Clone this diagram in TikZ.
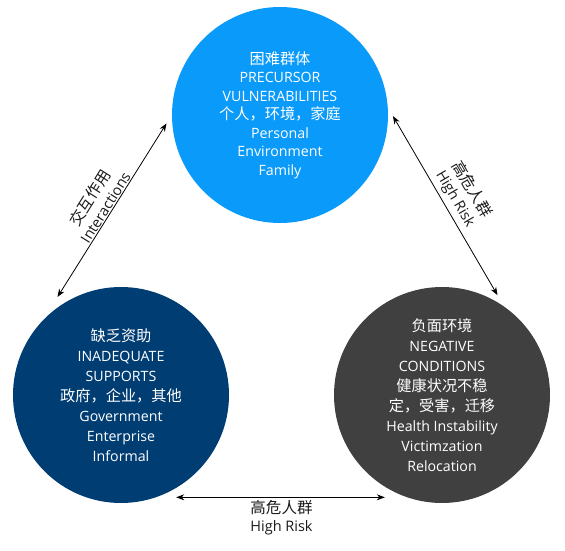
\documentclass[tikz,border=0pt]{standalone}
\usepackage{fontspec}
\setmainfont{Open Sans}
\newfontfamily\cjk{Noto Sans CJK SC}[Scale=1.07]
\usetikzlibrary{arrows.meta}

\definecolor{vulblue}{HTML}{0A9BFA}
\definecolor{supnavy}{HTML}{003D73}
\definecolor{neggray}{HTML}{404040}
\definecolor{taggray}{HTML}{1A1A1A}

\tikzset{
  ring/.style={circle, minimum size=216pt, inner sep=0pt, text=white, align=center,
    font=\fontsize{14.2}{20}\selectfont},
  link/.style={{Stealth[length=8pt,width=6pt]}-{Stealth[length=8pt,width=6pt]}, line width=0.8pt, black},
  tag/.style={text=taggray, align=center, font=\fontsize{14.5}{18}\selectfont}
}

\begin{document}
\begin{tikzpicture}[x=1pt, y=1pt]
  \useasboundingbox (0,0) rectangle (565,550);

  % the three groups
  \node[ring, fill=vulblue, font=\fontsize{14.2}{18.5}\selectfont] (vul) at (280,435)
    {{\cjk 困难群体}\\PRECURSOR\\VULNERABILITIES\\{\cjk 个人，环境，家庭}\\Personal\\Environment\\Family};
  \node[ring, fill=supnavy] (sup) at (121,155)
    {{\cjk 缺乏资助}\\INADEQUATE\\SUPPORTS\\{\cjk 政府，企业，其他}\\Government\\Enterprise\\Informal};
  \node[ring, fill=neggray] (neg) at (442,155)
    {{\cjk 负面环境}\\NEGATIVE\\CONDITIONS\\{\cjk 健康状况不稳}\\{\cjk 定，受害，迁移}\\Health Instability\\Victimzation\\Relocation};

  % links between them
  \draw[link, shorten <=27pt, shorten >=10pt] (sup.136) -- (vul.180)
    node[tag, pos=0.53, sloped, above, inner sep=1pt] {{\cjk 交互作用}\\Interactions};
  \draw[link, shorten <=10pt, shorten >=13pt] (vul.4) -- (neg.55)
    node[tag, pos=0.49, sloped, above, inner sep=4pt] {{\cjk 高危人群}\\High Risk};
  \draw[link, shorten <=20pt, shorten >=22pt] (sup.-71) -- (neg.251)
    node[tag, midway, below, inner sep=3pt] {{\cjk 高危人群}\\High Risk};
\end{tikzpicture}
\end{document}
